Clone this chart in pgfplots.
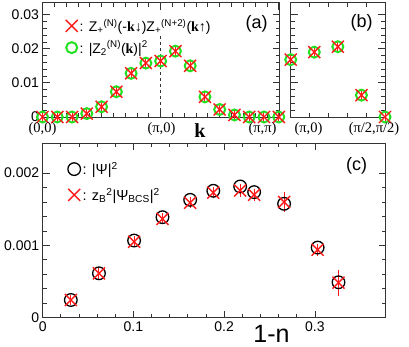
\documentclass[border=0pt]{standalone}
\usepackage{fontspec}
\setmainfont{Liberation Sans}
\newfontfamily\tnr{Liberation Serif}
\usepackage{pgfplots}
\pgfplotsset{compat=1.18}
\definecolor{Grn}{HTML}{22E022}
\definecolor{Rd}{HTML}{FF1A1A}
\definecolor{Frame}{HTML}{333333}

\pgfplotsset{
  panel/.style={
    scale only axis, anchor=south west, clip=false,
    axis line style={Frame,line width=1pt},
    tick style={Frame,line width=0.8pt},
    major tick length=7pt, minor tick length=4pt,
    tick align=inside,
    tick label style={font=\fontsize{14}{14}\selectfont},
    scaled ticks=false,
  },
  grn/.style={only marks,mark=o,mark size=5.5pt,Grn,mark options={line width=2pt}},
  rdx/.style={only marks,mark=x,mark size=8.5pt,Rd,mark options={line width=1.4pt},
    error bars/y dir=both,error bars/y explicit,
    error bars/error mark=-,
    error bars/error bar style={Rd,line width=1pt},
    error bars/error mark options={Rd,line width=1pt,mark size=4pt}},
  blk/.style={only marks,mark=o,mark size=6.3pt,black,mark options={line width=1.3pt}},
  mylegend/.style={legend cell align=left,
    legend image code/.code={\draw[##1] plot coordinates {(5pt,0pt)};}},
}

\begin{document}
\begin{tikzpicture}
\useasboundingbox (0,0) rectangle (409pt,346pt);

% (a) along (0,0)-(pi,0)-(pi,pi)
\begin{axis}[panel, mylegend, at={(42.5pt,229pt)}, width=237pt, height=114.3pt,
  xmin=0, xmax=16.05, ymin=0, ymax=0.0335,
  xtick={0,8,16}, xticklabels={}, minor x tick num=9,
  ytick={0,0.01,0.02,0.03}, yticklabels={0,0.01,0.02,0.03}, minor y tick num=4,
  legend style={draw=none,fill=none,at={(0,1)},anchor=north west,xshift=23pt,yshift=-14pt,
    font=\fontsize{14}{14.5}\selectfont,inner sep=0pt,row sep=4pt}]
  \addlegendimage{rdx}
  \addlegendentry{: Z\textsubscript{+}\textsuperscript{(N)}({-}{\tnr\bfseries k}{\tnr↓})Z\textsubscript{+}\textsuperscript{(N+2)}({\tnr\bfseries k}{\tnr↑})}
  \addlegendimage{grn}
  \addlegendentry{: |Z\textsubscript{2}\textsuperscript{(N)}({\tnr\bfseries k})|\textsuperscript{2}}
  \addplot[forget plot, Frame, dashed, line width=0.8pt] coordinates {(8,0) (8,0.0245)};
  \addplot[grn, forget plot] coordinates {
    (0,0) (1,0) (2,0) (3,0.0010) (4,0.0030) (5,0.0074) (6,0.0128) (7,0.0158)
    (8,0.0164) (9,0.0193) (10,0.0150) (11,0.0059) (12,0.0022) (13,0.0006)
    (14,0) (15,0) (16,0)};
  \addplot[rdx, forget plot] coordinates {
    (0,0) +- (0,0.0003) (1,0) +- (0,0.0003) (2,0) +- (0,0.0003)
    (3,0.0010) +- (0,0.0003) (4,0.0030) +- (0,0.0003) (5,0.0074) +- (0,0.0003)
    (6,0.0128) +- (0,0.0003) (7,0.0158) +- (0,0.0003) (8,0.0164) +- (0,0.0003)
    (9,0.0193) +- (0,0.0003) (10,0.0150) +- (0,0.0003) (11,0.0059) +- (0,0.0003)
    (12,0.0022) +- (0,0.0003) (13,0.0006) +- (0,0.0003) (14,0) +- (0,0.0003)
    (15,0) +- (0,0.0003) (16,0) +- (0,0.0003)};
\end{axis}

% (b) along (pi,0)-(pi/2,pi/2)
\begin{axis}[panel, at={(290.7pt,229pt)}, width=94.3pt, height=114.3pt,
  xmin=0, xmax=4, ymin=0, ymax=0.0335,
  xtick={0,4}, xticklabels={}, minor x tick num=4,
  ytick={0,0.01,0.02,0.03}, yticklabels={}, minor y tick num=4]
  \addplot[grn] coordinates {(0,0.0168) (1,0.0190) (2,0.0206) (3,0.0064) (4,0)};
  \addplot[rdx] coordinates {
    (0,0.0168) +- (0,0.0003) (1,0.0190) +- (0,0.0003) (2,0.0206) +- (0,0.0003)
    (3,0.0064) +- (0,0.0003) (4,0) +- (0,0.0003)};
\end{axis}

% (c) versus hole density
\begin{axis}[panel, mylegend, at={(42.7pt,28.3pt)}, width=343pt, height=174.7pt,
  xmin=0, xmax=0.378, ymin=0, ymax=0.002416,
  xtick={0,0.1,0.2,0.3}, xticklabels={0,0.1,0.2,0.3}, minor x tick num=4,
  ytick={0,0.001,0.002}, yticklabels={0,0.001,0.002}, minor y tick num=4,
  legend style={draw=none,fill=none,at={(0,1)},anchor=north west,xshift=25pt,yshift=-17pt,
    font=\fontsize{14.5}{15}\selectfont,inner sep=0pt,row sep=8pt}]
  \addplot[blk] coordinates {
    (0.031,0.000245) (0.062,0.000614) (0.1007,0.001067) (0.132,0.00139)
    (0.1625,0.00163) (0.188,0.001755) (0.2176,0.001815) (0.233,0.001737)
    (0.266,0.001575) (0.303,0.00097) (0.326,0.00049)};
  \addlegendentry{: |Ψ|\textsuperscript{2}}
  \addplot[rdx] coordinates {
    (0.031,0.000245) +- (0,0.00002) (0.062,0.000614) +- (0,0.00002)
    (0.1007,0.00105) +- (0,0.00002) (0.132,0.001367) +- (0,0.00002)
    (0.1625,0.00159) +- (0,0.00002) (0.188,0.00173) +- (0,0.00002)
    (0.2176,0.00176) +- (0,0.00003) (0.233,0.0017) +- (0,0.00003)
    (0.266,0.0016) +- (0,0.00008) (0.303,0.00094) +- (0,0.00003)
    (0.326,0.000485) +- (0,0.000125)};
  \addlegendentry{: z\textsubscript{B}\textsuperscript{2}|Ψ\textsubscript{BCS}|\textsuperscript{2}}
\end{axis}

% labels
\node[font=\fontsize{18}{18}\selectfont] at (256.7pt,322.5pt) {(a)};
\node[font=\fontsize{18}{18}\selectfont] at (361.7pt,323pt) {(b)};
\node[font=\fontsize{18}{18}\selectfont] at (356.7pt,180pt) {(c)};
\node[font=\tnr\fontsize{14.5}{15}\selectfont] at (42.5pt,217pt) {(0,0)};
\node[font=\tnr\fontsize{14.5}{15}\selectfont] at (161.5pt,217pt) {(π,0)};
\node[font=\tnr\fontsize{14.5}{15}\selectfont,anchor=east] at (280pt,217pt) {(π,π)};
\node[font=\tnr\fontsize{14.5}{15}\selectfont,anchor=west] at (291pt,217pt) {(π,0)};
\node[font=\tnr\fontsize{14.5}{15}\selectfont] at (374pt,217pt) {(π/2,π/2)};
\node[font=\tnr\bfseries\fontsize{20}{20}\selectfont] at (200pt,215pt) {k};
\node[font=\fontsize{25}{25}\selectfont] at (271.5pt,12pt) {1-n};
\end{tikzpicture}
\end{document}
